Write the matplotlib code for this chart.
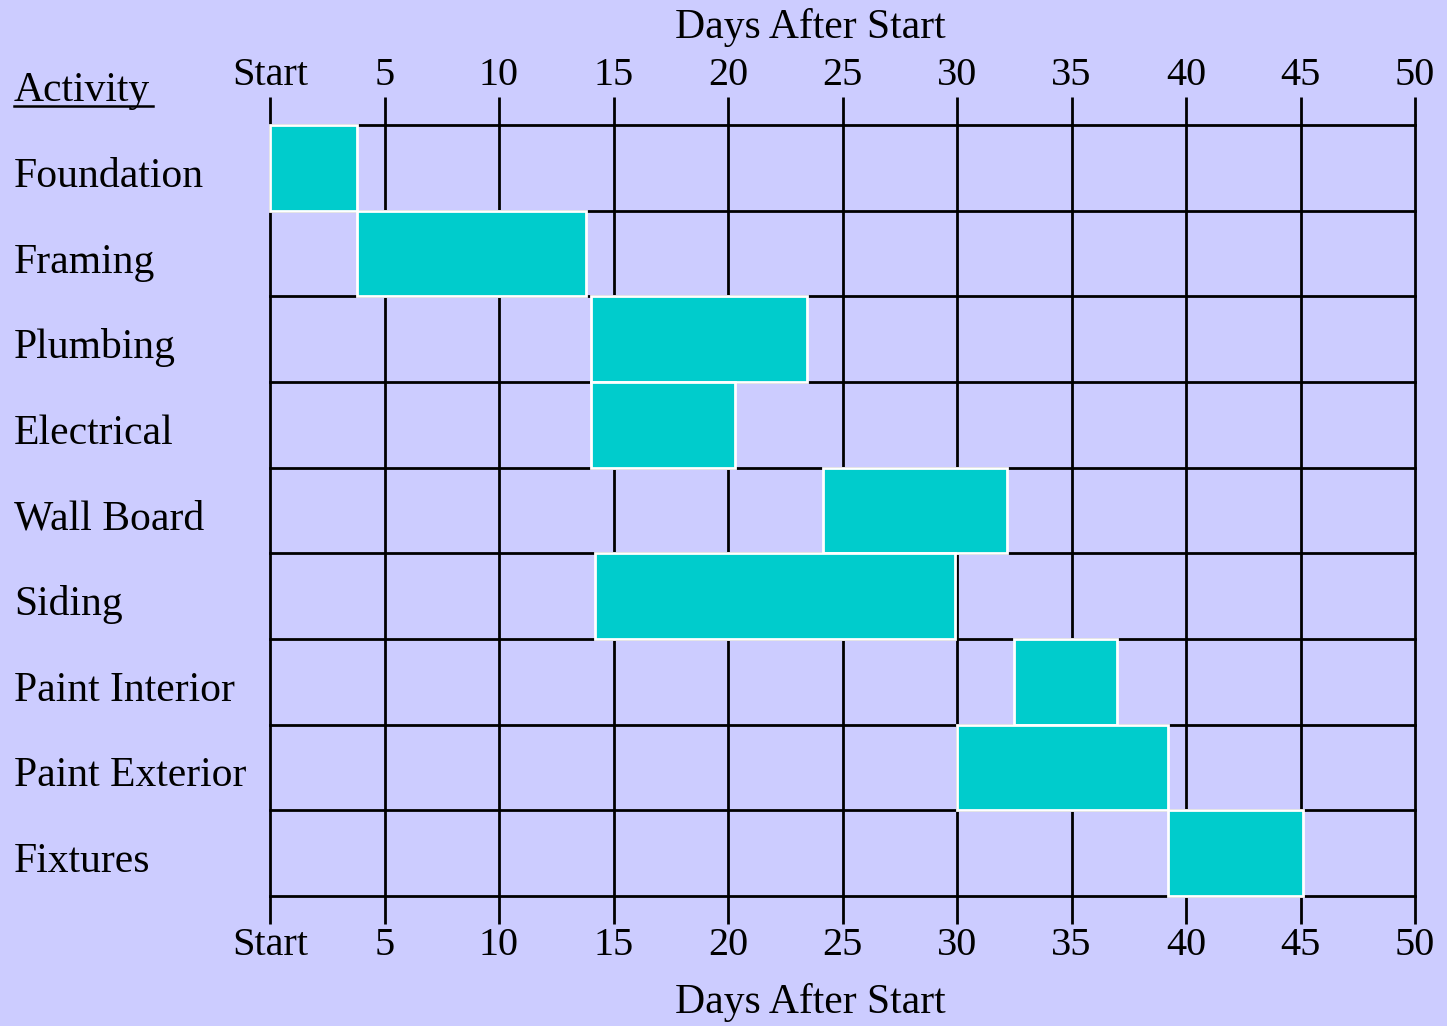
import matplotlib.pyplot as plt
from matplotlib.lines import Line2D

# schedule, in days after start
activities = ["Foundation", "Framing", "Plumbing", "Electrical", "Wall Board",
              "Siding", "Paint Interior", "Paint Exterior", "Fixtures"]
start_day = [0.0, 3.8, 14.0, 14.0, 24.15, 14.2, 32.5, 30.0, 39.2]
end_day = [3.8, 13.8, 23.45, 20.3, 32.2, 29.9, 37.0, 39.2, 45.1]

tick_days = [0, 5, 10, 15, 20, 25, 30, 35, 40, 45, 50]
tick_labels = ["Start", "5", "10", "15", "20", "25", "30", "35", "40", "45", "50"]

bg = "#ccccff"
bar_color = "#00cccc"
plt.rcParams["font.family"] = ["Liberation Serif", "DejaVu Serif"]

W, H = 1447, 1026
fig = plt.figure(figsize=(W / 100, H / 100), dpi=100, facecolor=bg)
ax = fig.add_axes([270 / W, 1 - 896 / H, 1145 / W, 771 / H])
ax.set_facecolor(bg)

ax.set_xlim(0, 50)
ax.set_ylim(len(activities), 0)

# grid: vertical lines at every tick, horizontal lines between rows
for d in tick_days[1:]:
    ax.axvline(d, color="black", lw=2, zorder=1, clip_on=False)
for i in range(len(activities) + 1):
    ax.axhline(i, color="black", lw=2, zorder=1, clip_on=False)

for i, (s, e) in enumerate(zip(start_day, end_day)):
    ax.barh(i + 0.5, e - s, left=s, height=1.0, color=bar_color,
            edgecolor="white", linewidth=2, zorder=3, clip_on=False)

for side in ["top", "right", "bottom"]:
    ax.spines[side].set_visible(False)
ax.spines["left"].set_linewidth(2)

ax.set_xticks(tick_days)
ax.set_xticklabels(tick_labels)
ax.tick_params(axis="x", which="both", direction="out", length=20, width=2,
               top=True, bottom=True, labeltop=True, labelbottom=True,
               labelsize=29, pad=2)
ax.set_yticks([])

fig.text(810 / W, 1 - 38 / H, "Days After Start", ha="center", va="baseline", fontsize=30)
fig.text(810 / W, 1 - 1013 / H, "Days After Start", ha="center", va="baseline", fontsize=30)

# row labels on the left
fig.text(14 / W, 1 - 101 / H, "Activity", ha="left", va="baseline", fontsize=30)
fig.add_artist(Line2D([14 / W, 153 / W], [1 - 106 / H, 1 - 106 / H],
                      color="black", lw=1.8))
row_px = 771 / len(activities)
for i, name in enumerate(activities):
    y_px = 125 + (i + 0.5) * row_px + 19
    fig.text(14 / W, 1 - y_px / H, name, ha="left", va="baseline", fontsize=30)

fig.savefig("out.png", dpi=100, facecolor=bg)
